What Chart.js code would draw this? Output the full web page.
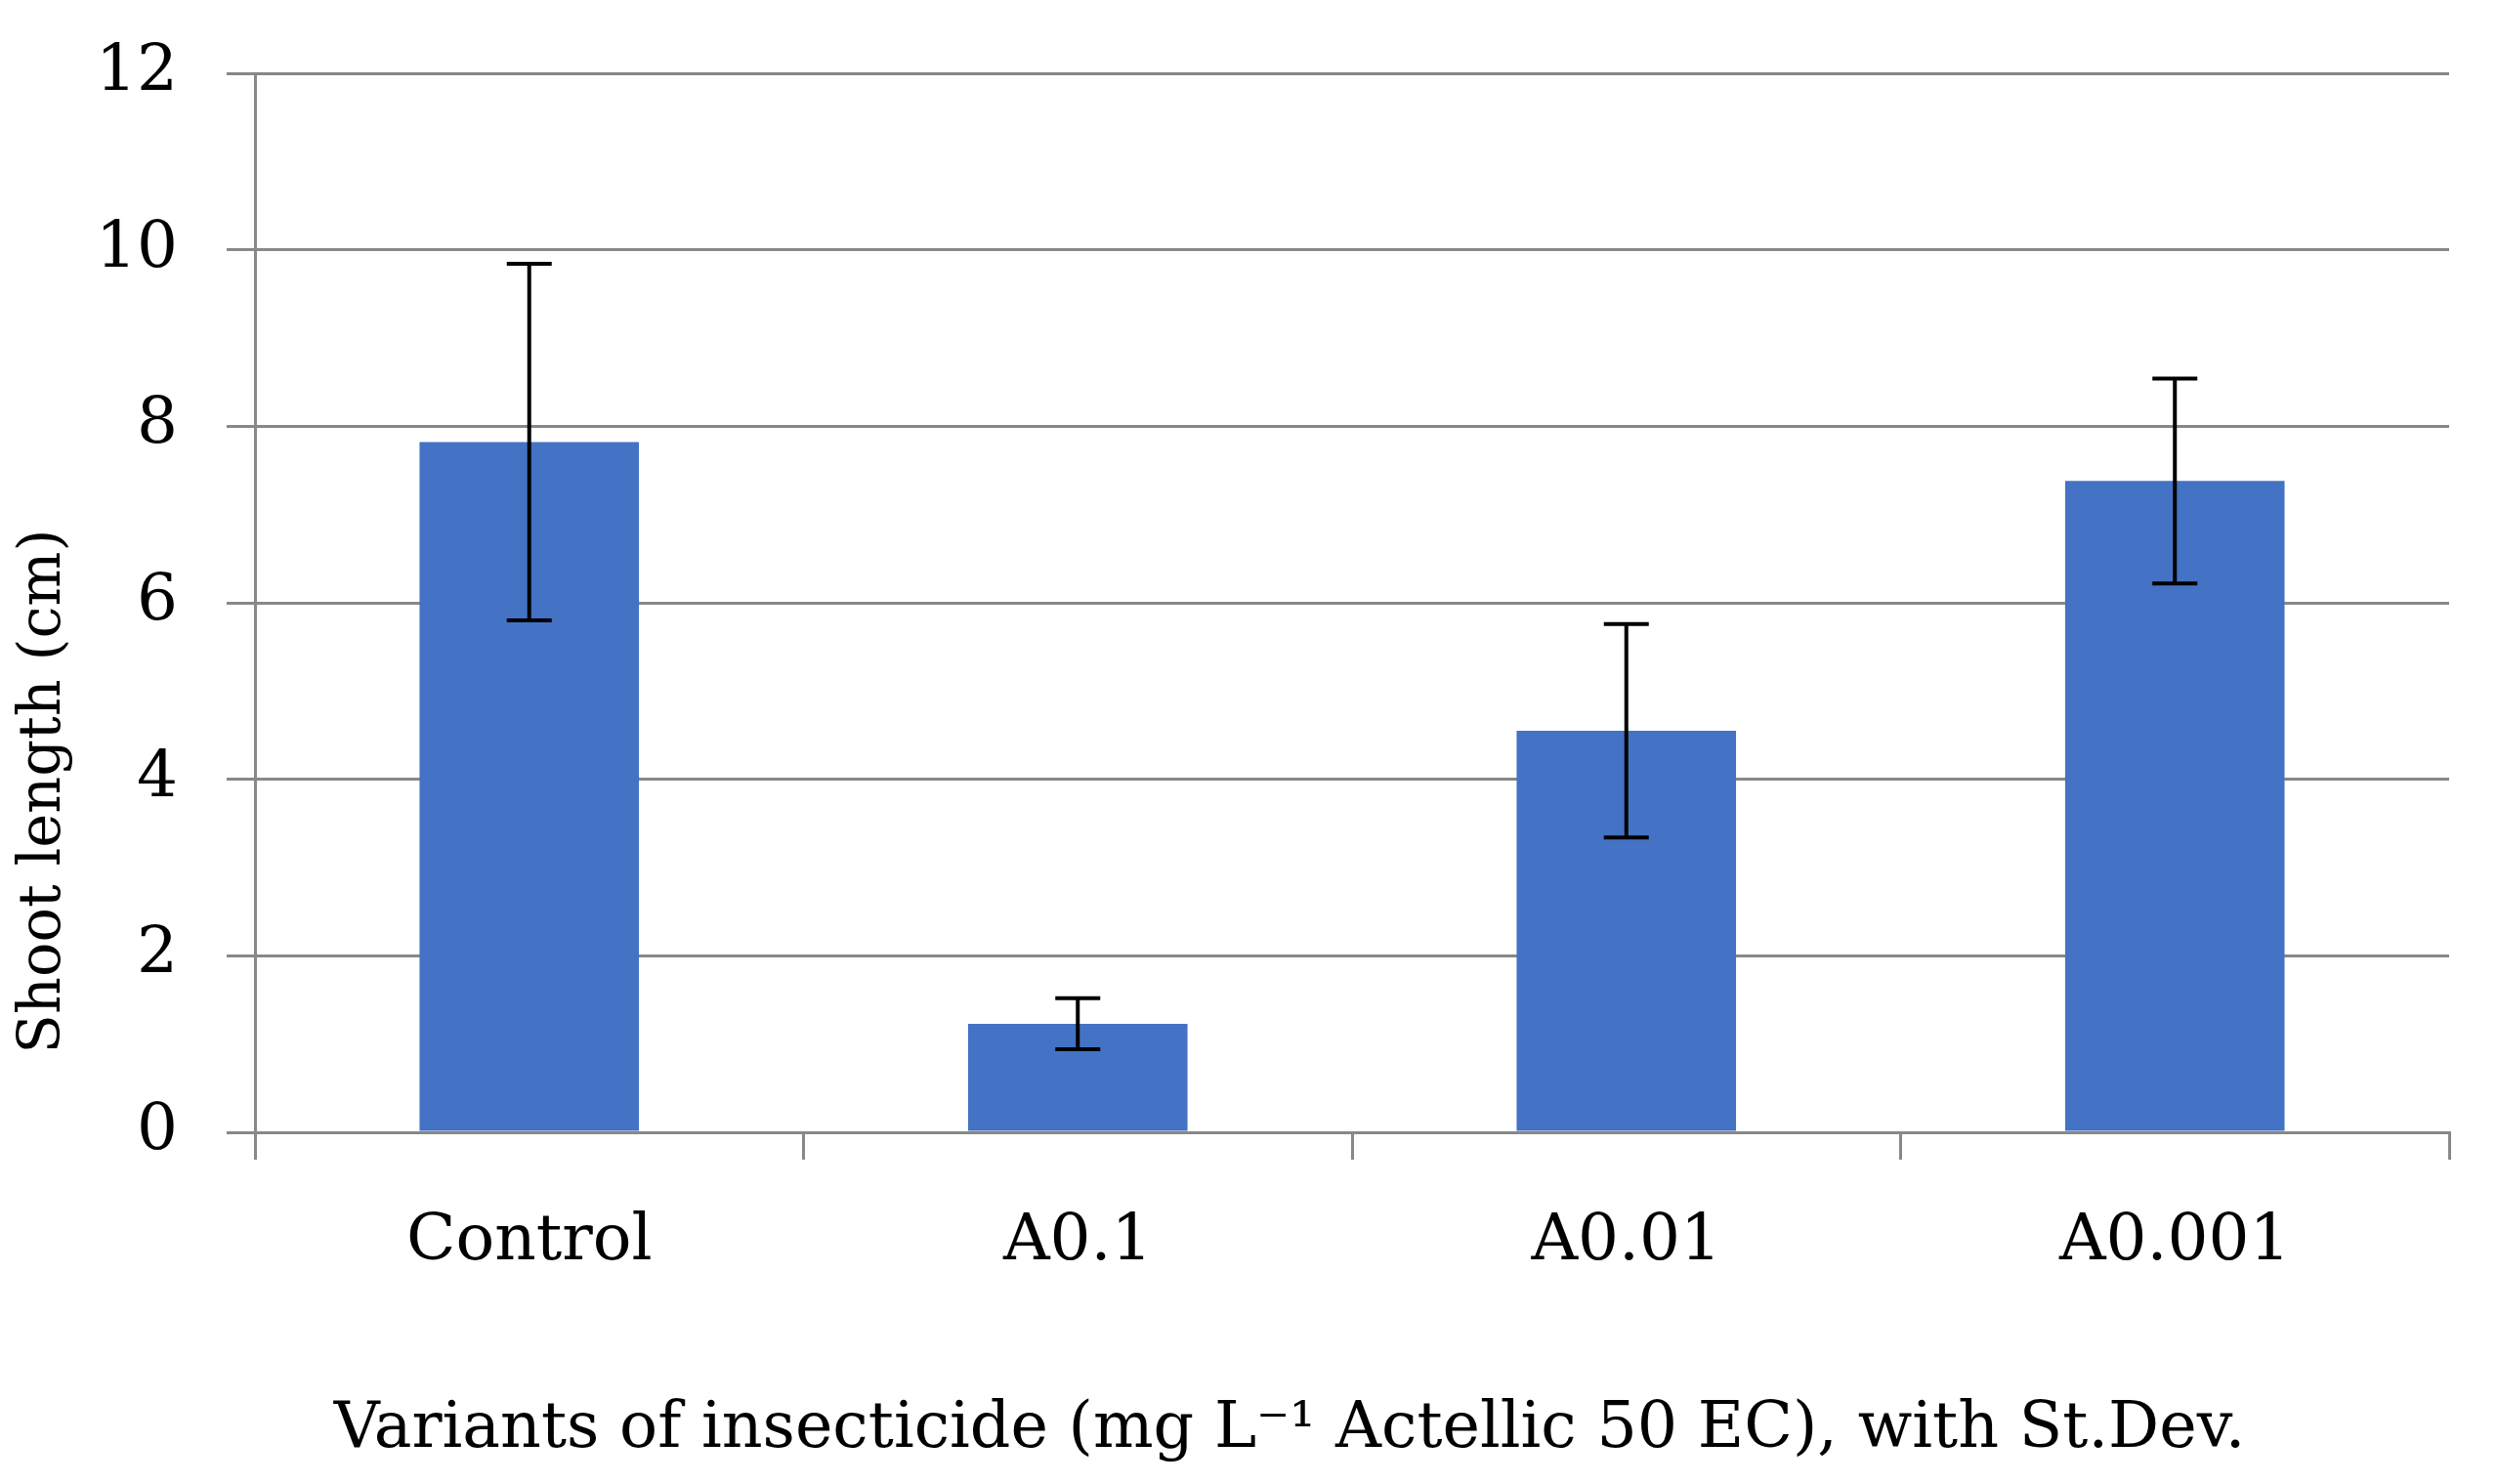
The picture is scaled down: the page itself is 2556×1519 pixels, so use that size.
<!DOCTYPE html>
<html>
<head>
<meta charset="utf-8">
<script src="https://cdn.jsdelivr.net/npm/chart.js@4.4.1/dist/chart.umd.min.js"></script>
<style>
  html, body { margin: 0; padding: 0; background: #ffffff; }
  #chart { display: block; }
</style>
</head>
<body>
<canvas id="chart" width="2556" height="1519"></canvas>
<script>
const categories = ["Control", "A0.1", "A0.01", "A0.001"];
const meanLength = [7.82, 1.23, 4.55, 7.38];
const stDev = [2.02, 0.29, 1.21, 1.16];
const yMin = 0;
const yMax = 12;
const yStep = 2;

const xTitle = "Variants of insecticide (mg L\u207B\u00B9 Actellic 50 EC), with St.Dev.";
const yTitle = "Shoot length (cm)";

const GRID = "#888888";
const SERIF = "'DejaVu Serif', 'Liberation Serif', serif";

// error bars drawn through the y scale
const errorBars = {
  id: "errorBars",
  afterDatasetsDraw(chart) {
    const ctx = chart.ctx;
    const y = chart.scales.y;
    const meta = chart.getDatasetMeta(0);
    ctx.save();
    ctx.strokeStyle = "#000000";
    ctx.lineWidth = 4;
    meta.data.forEach((bar, i) => {
      const hi = y.getPixelForValue(meanLength[i] + stDev[i]);
      const lo = y.getPixelForValue(meanLength[i] - stDev[i]);
      const cap = 23;
      ctx.beginPath();
      ctx.moveTo(bar.x, hi);
      ctx.lineTo(bar.x, lo);
      ctx.moveTo(bar.x - cap, hi);
      ctx.lineTo(bar.x + cap, hi);
      ctx.moveTo(bar.x - cap, lo);
      ctx.lineTo(bar.x + cap, lo);
      ctx.stroke();
    });
    ctx.restore();
  }
};

// axis titles, placed off-centre like the original
const axisTitles = {
  id: "axisTitles",
  afterDraw(chart) {
    const ctx = chart.ctx;
    const area = chart.chartArea;
    ctx.save();
    ctx.fillStyle = "#000000";
    ctx.textAlign = "center";
    ctx.textBaseline = "middle";

    ctx.font = "65px " + SERIF;
    ctx.fillText(xTitle, (area.left + area.right) / 2 - 64, area.bottom + 305);

    ctx.translate(46, area.bottom - 349);
    ctx.rotate(-Math.PI / 2);
    ctx.font = "59px " + SERIF;
    ctx.fillText(yTitle, 0, 0);
    ctx.restore();
  }
};

new Chart(document.getElementById("chart"), {
  type: "bar",
  data: {
    labels: categories,
    datasets: [{
      data: meanLength,
      backgroundColor: "#4472C4",
      borderWidth: 0,
      barPercentage: 0.8,
      categoryPercentage: 0.5
    }]
  },
  options: {
    responsive: false,
    devicePixelRatio: 1,
    animation: false,
    layout: { padding: { left: 0, right: 49, top: 75, bottom: 0 } },
    plugins: {
      legend: { display: false },
      tooltip: { enabled: false }
    },
    scales: {
      x: {
        afterFit(scale) { scale.height = 360; },
        grid: {
          offset: true,
          drawOnChartArea: false,
          drawTicks: true,
          tickLength: 28,
          color: GRID,
          lineWidth: 3
        },
        border: { display: true, color: GRID, width: 3 },
        ticks: {
          color: "#000000",
          font: { family: SERIF, size: 66 },
          padding: 45
        }
      },
      y: {
        min: yMin,
        max: yMax,
        afterFit(scale) {
          scale.width = 261;
          scale.paddingTop = 0;
          scale.paddingBottom = 0;
        },
        grid: {
          drawTicks: true,
          tickLength: 29,
          color: GRID,
          lineWidth: 3
        },
        border: { display: true, color: GRID, width: 3 },
        ticks: {
          stepSize: yStep,
          color: "#000000",
          font: { family: SERIF, size: 66 },
          padding: 50
        }
      }
    }
  },
  plugins: [errorBars, axisTitles]
});
</script>
</body>
</html>
